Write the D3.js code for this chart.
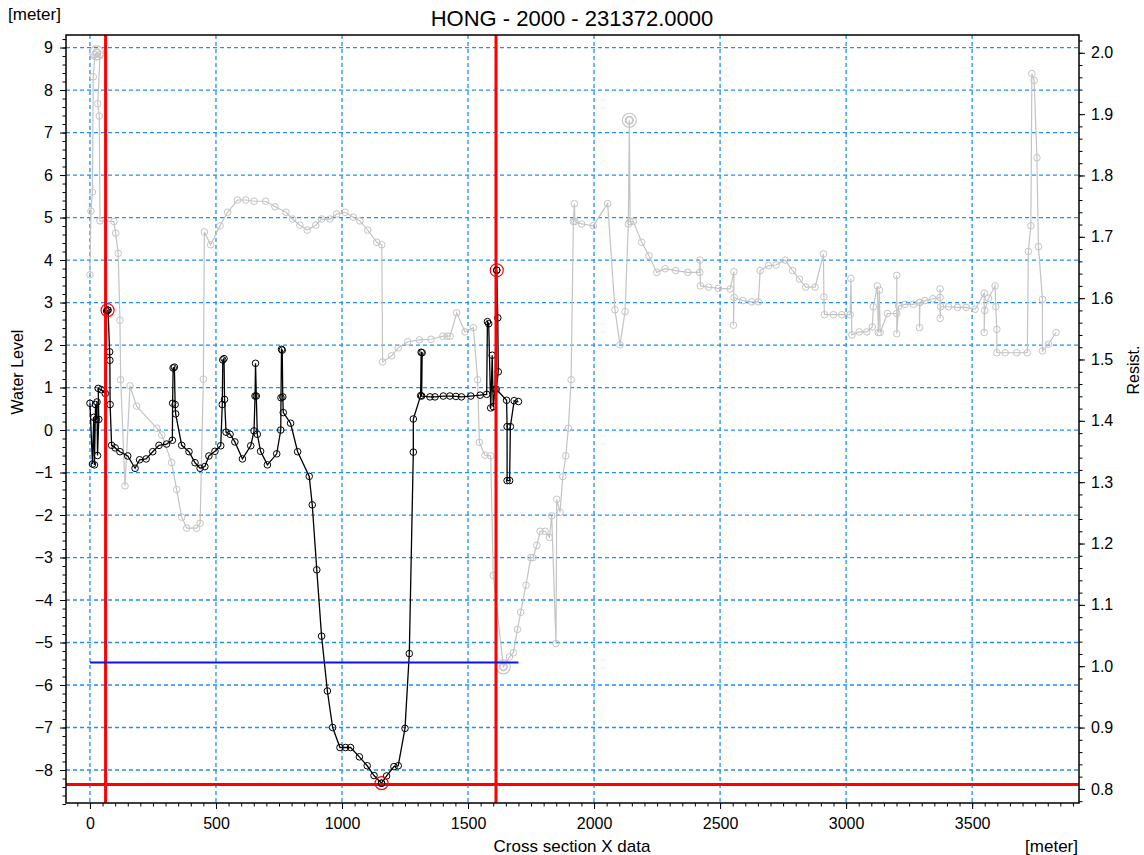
<!DOCTYPE html>
<html>
<head>
<meta charset="utf-8">
<script src="https://cdn.jsdelivr.net/npm/d3@7"></script>
<style>
  body { margin: 0; background: #fff; }
  text { font-family: "Liberation Sans", Arial, sans-serif; }
</style>
</head>
<body>
<svg id="chart"></svg>
<script>
// cross section (left axis, water level)
const sectionX = [0, 10, 15, 18, 22, 25, 28, 30, 35, 33, 45, 61, 66, 72, 78, 79, 80, 86, 100, 119, 150, 179, 197, 223, 249, 274, 304, 327, 328, 330, 335, 338, 340, 364, 393, 417, 437, 456, 472, 496, 519, 525, 527, 532, 534, 540, 556, 575, 605, 638, 651, 655, 657, 660, 664, 677, 704, 741, 757, 758, 760, 763, 765, 767, 796, 824, 870, 882, 900, 919, 942, 963, 992, 1014, 1034, 1069, 1100, 1127, 1157, 1177, 1206, 1223, 1250, 1267, 1283, 1283, 1312, 1314, 1318, 1316, 1349, 1369, 1402, 1428, 1452, 1474, 1511, 1548, 1574, 1577, 1582, 1590, 1596, 1600, 1607, 1614, 1618, 1620, 1612, 1653, 1655, 1655, 1665, 1668, 1683, 1700];
const sectionZ = [0.63, -0.8, 0.3, -0.82, 0.6, 0.25, 0.66, -0.6, 0.25, 0.98, 0.95, 0.86, 2.8, 2.82, 1.84, 1.64, 0.6, -0.36, -0.42, -0.51, -0.61, -0.9, -0.7, -0.68, -0.51, -0.36, -0.33, -0.24, 0.63, 1.46, 1.48, 0.6, 0.38, -0.36, -0.51, -0.77, -0.9, -0.86, -0.61, -0.5, -0.37, 0.6, 1.65, 1.68, 0.72, -0.05, -0.1, -0.28, -0.68, -0.37, -0.02, 0.8, 1.57, 0.8, -0.1, -0.5, -0.82, -0.56, 0.0, 0.76, 1.9, 1.88, 0.78, 0.41, 0.16, -0.51, -1.09, -1.76, -3.29, -4.85, -6.14, -7.0, -7.47, -7.47, -7.47, -7.69, -7.9, -8.13, -8.31, -8.14, -7.92, -7.9, -7.02, -5.26, -0.52, 0.26, 0.81, 1.83, 1.82, 0.8, 0.78, 0.78, 0.8, 0.8, 0.79, 0.78, 0.8, 0.82, 0.84, 2.55, 2.5, 0.52, 1.76, 0.55, 0.96, 3.76, 2.64, 1.37, 0.96, 0.7, 0.08, -1.19, -1.19, 0.08, 0.69, 0.67];

// resistance (right axis)
const resistX = [0, 4, 10, 13, 20, 27, 30, 40, 31, 37, 40, 95, 102, 112, 119, 122, 139, 159, 185, 265, 285, 324, 344, 364, 384, 423, 437, 450, 454, 479, 516, 546, 585, 618, 651, 697, 734, 778, 804, 833, 862, 896, 919, 952, 979, 1012, 1045, 1071, 1102, 1138, 1158, 1161, 1197, 1223, 1261, 1307, 1353, 1400, 1417, 1429, 1455, 1488, 1521, 1538, 1545, 1567, 1590, 1600, 1640, 1664, 1680, 1696, 1709, 1730, 1749, 1758, 1773, 1786, 1806, 1823, 1832, 1849, 1852, 1865, 1876, 1888, 1898, 1909, 1918, 1922, 1924, 1951, 1997, 2054, 2083, 2103, 2123, 2136, 2140, 2143, 2156, 2189, 2218, 2249, 2282, 2324, 2372, 2419, 2420, 2422, 2454, 2493, 2540, 2555, 2553, 2556, 2590, 2626, 2652, 2659, 2692, 2722, 2758, 2788, 2815, 2840, 2877, 2910, 2912, 2914, 2950, 2983, 3016, 3019, 3023, 3052, 3082, 3104, 3108, 3124, 3128, 3132, 3135, 3164, 3201, 3201, 3201, 3208, 3234, 3267, 3291, 3291, 3293, 3313, 3344, 3373, 3373, 3373, 3375, 3406, 3442, 3476, 3512, 3548, 3548, 3550, 3565, 3591, 3594, 3598, 3598, 3631, 3677, 3719, 3723, 3733, 3737, 3746, 3757, 3763, 3779, 3779, 3803, 3833];
const resistR = [1.638, 1.742, 1.773, 1.961, 1.997, 2.0, 1.994, 1.997, 1.917, 1.897, 1.726, 1.725, 1.706, 1.673, 1.564, 1.467, 1.294, 1.457, 1.424, 1.388, 1.377, 1.332, 1.288, 1.243, 1.225, 1.225, 1.233, 1.468, 1.708, 1.687, 1.718, 1.740, 1.760, 1.760, 1.758, 1.758, 1.749, 1.740, 1.729, 1.719, 1.711, 1.719, 1.729, 1.729, 1.737, 1.740, 1.732, 1.726, 1.711, 1.691, 1.687, 1.496, 1.506, 1.519, 1.529, 1.532, 1.533, 1.538, 1.538, 1.538, 1.576, 1.545, 1.552, 1.467, 1.365, 1.344, 1.343, 1.148, 0.999, 1.015, 1.022, 1.060, 1.088, 1.132, 1.177, 1.177, 1.197, 1.220, 1.220, 1.210, 1.245, 1.037, 1.272, 1.251, 1.309, 1.343, 1.388, 1.467, 1.725, 1.754, 1.725, 1.721, 1.718, 1.754, 1.581, 1.524, 1.578, 1.721, 1.890, 1.725, 1.725, 1.691, 1.669, 1.642, 1.648, 1.645, 1.642, 1.642, 1.662, 1.620, 1.618, 1.616, 1.615, 1.643, 1.556, 1.601, 1.596, 1.594, 1.594, 1.645, 1.653, 1.654, 1.662, 1.645, 1.631, 1.618, 1.618, 1.672, 1.602, 1.573, 1.573, 1.573, 1.573, 1.632, 1.540, 1.545, 1.545, 1.553, 1.586, 1.620, 1.544, 1.613, 1.544, 1.575, 1.575, 1.637, 1.542, 1.587, 1.590, 1.590, 1.593, 1.552, 1.593, 1.596, 1.599, 1.601, 1.615, 1.567, 1.586, 1.586, 1.585, 1.585, 1.582, 1.608, 1.544, 1.580, 1.600, 1.620, 1.586, 1.549, 1.511, 1.511, 1.511, 1.511, 1.676, 1.718, 1.966, 1.955, 1.829, 1.684, 1.598, 1.514, 1.525, 1.544];

// highlighted points
const sectionMarkX = [70, 1614, 1157];
const sectionMarkZ = [2.82, 3.76, -8.31];
const resistMarkX = [27, 2140, 1640];
const resistMarkR = [2.0, 1.890, 0.999];

// marker lines
const redLineX = [62, 1611];
const redLineZ = -8.34;
const blueLineZ = -5.47;
const blueLineX = [0, 1700];

const leftTicks = d3.range(-8, 10);
const rightTicks = d3.range(8, 21).map((d) => d / 10);
const xTicks = d3.range(0, 4000, 500);

const width = 1144;
const height = 855;
const plot = {left: 66, right: 1079, top: 35, bottom: 803};

const svg = d3.select("#chart").attr("width", width).attr("height", height);
svg.append("rect").attr("width", width).attr("height", height).attr("fill", "#fff");

const x = d3.scaleLinear().domain([-95, 3924]).range([plot.left, plot.right]);
const yL = d3.scaleLinear().domain([-8.776, 9.295]).range([plot.bottom, plot.top]);
const yR = d3.scaleLinear().domain([0.777, 2.029]).range([plot.bottom, plot.top]);

svg.append("defs").append("clipPath").attr("id", "clip")
  .append("rect")
  .attr("x", plot.left).attr("y", plot.top)
  .attr("width", plot.right - plot.left).attr("height", plot.bottom - plot.top);

// grid
const gridColor = "#1e8fff";
svg.selectAll(".vgrid").data(xTicks).enter().append("line")
  .attr("x1", (d) => x(d)).attr("x2", (d) => x(d))
  .attr("y1", plot.top).attr("y2", plot.bottom)
  .attr("stroke", gridColor).attr("stroke-width", 1.3).attr("stroke-dasharray", "4,3");
svg.selectAll(".hgrid").data(leftTicks).enter().append("line")
  .attr("x1", plot.left).attr("x2", plot.right)
  .attr("y1", (d) => yL(d)).attr("y2", (d) => yL(d))
  .attr("stroke", gridColor).attr("stroke-width", 1.3).attr("stroke-dasharray", "4,3");

const g = svg.append("g").attr("clip-path", "url(#clip)");

// resistance line (grey)
const resist = resistX.map((d, i) => ({x: d, r: resistR[i]}));
g.append("path")
  .datum(resist)
  .attr("fill", "none").attr("stroke", "#c4c4c4").attr("stroke-width", 1.2)
  .attr("d", d3.line().x((d) => x(d.x)).y((d) => yR(d.r)));
g.selectAll(".rdot").data(resist).enter().append("circle")
  .attr("cx", (d) => x(d.x)).attr("cy", (d) => yR(d.r)).attr("r", 3.3)
  .attr("fill", "none").attr("stroke", "#c4c4c4").attr("stroke-width", 1);
resistMarkX.forEach((d, i) => {
  [4, 7].forEach((r) => {
    g.append("circle").attr("cx", x(d)).attr("cy", yR(resistMarkR[i])).attr("r", r)
      .attr("fill", "none").attr("stroke", "#c4c4c4").attr("stroke-width", 1.2);
  });
});

// cross section (black)
const section = sectionX.map((d, i) => ({x: d, z: sectionZ[i]}));
g.append("path")
  .datum(section)
  .attr("fill", "none").attr("stroke", "#000").attr("stroke-width", 1.3)
  .attr("d", d3.line().x((d) => x(d.x)).y((d) => yL(d.z)));
g.selectAll(".sdot").data(section).enter().append("circle")
  .attr("cx", (d) => x(d.x)).attr("cy", (d) => yL(d.z)).attr("r", 3.3)
  .attr("fill", "none").attr("stroke", "#000").attr("stroke-width", 1);

// red & blue marker lines
redLineX.forEach((d) => {
  g.append("line").attr("x1", x(d)).attr("x2", x(d))
    .attr("y1", plot.top).attr("y2", plot.bottom)
    .attr("stroke", "#f00").attr("stroke-width", 3);
});
g.append("line").attr("x1", plot.left).attr("x2", plot.right)
  .attr("y1", yL(redLineZ)).attr("y2", yL(redLineZ))
  .attr("stroke", "#f00").attr("stroke-width", 3);
g.append("line").attr("x1", x(blueLineX[0])).attr("x2", x(blueLineX[1]))
  .attr("y1", yL(blueLineZ)).attr("y2", yL(blueLineZ))
  .attr("stroke", "#1010e8").attr("stroke-width", 2.2);

sectionMarkX.forEach((d, i) => {
  g.append("circle").attr("cx", x(d)).attr("cy", yL(sectionMarkZ[i])).attr("r", 6.5)
    .attr("fill", "none").attr("stroke", "#f00").attr("stroke-width", 1.2);
  g.append("circle").attr("cx", x(d)).attr("cy", yL(sectionMarkZ[i])).attr("r", 3.3)
    .attr("fill", "none").attr("stroke", "#000").attr("stroke-width", 1);
});

// axes
function styleAxis(sel) {
  sel.select(".domain").remove();
  sel.selectAll("text").attr("font-size", "16px").attr("fill", "#000")
    .attr("font-family", "Liberation Sans, Arial, sans-serif");
  sel.selectAll("line").attr("stroke", "#000");
}

svg.append("g").attr("transform", `translate(${plot.left},0)`)
  .call(d3.axisLeft(yL).tickValues(d3.range(-88, 93, 2).map((d) => d / 10)).tickSize(3.5).tickFormat(""))
  .call(styleAxis);
svg.append("g").attr("transform", `translate(${plot.left},0)`)
  .call(d3.axisLeft(yL).tickValues(leftTicks).tickSize(6).tickPadding(7))
  .call(styleAxis);

svg.append("g").attr("transform", `translate(${plot.right},0)`)
  .call(d3.axisRight(yR).tickValues(d3.range(39, 102).map((d) => d / 50)).tickSize(3.5).tickFormat(""))
  .call(styleAxis);
svg.append("g").attr("transform", `translate(${plot.right},0)`)
  .call(d3.axisRight(yR).tickValues(rightTicks).tickSize(6).tickPadding(6).tickFormat(d3.format(".1f")))
  .call(styleAxis);

svg.append("g").attr("transform", `translate(0,${plot.bottom})`)
  .call(d3.axisBottom(x).tickValues(d3.range(-50, 3901, 50)).tickSize(3.5).tickFormat(""))
  .call(styleAxis);
svg.append("g").attr("transform", `translate(0,${plot.bottom})`)
  .call(d3.axisBottom(x).tickValues(xTicks).tickSize(6).tickPadding(9).tickFormat(d3.format("d")))
  .call(styleAxis);

svg.append("rect")
  .attr("x", plot.left).attr("y", plot.top)
  .attr("width", plot.right - plot.left).attr("height", plot.bottom - plot.top)
  .attr("fill", "none").attr("stroke", "#000").attr("stroke-width", 1.5);

// labels
svg.append("text").attr("x", 572).attr("y", 26).attr("text-anchor", "middle")
  .attr("font-size", "22px").text("HONG - 2000 - 231372.0000");
svg.append("text").attr("x", 8).attr("y", 20).attr("font-size", "17px").text("[meter]");
svg.append("text").attr("x", 1078).attr("y", 852).attr("text-anchor", "end")
  .attr("font-size", "17px").text("[meter]");
svg.append("text").attr("x", 572).attr("y", 852).attr("text-anchor", "middle")
  .attr("font-size", "17px").text("Cross section X data");
svg.append("text").attr("transform", "translate(23,372) rotate(-90)")
  .attr("text-anchor", "middle").attr("font-size", "16px").text("Water Level");
svg.append("text").attr("transform", "translate(1139,370) rotate(-90)")
  .attr("text-anchor", "middle").attr("font-size", "16px").text("Resist.");
</script>
</body>
</html>
